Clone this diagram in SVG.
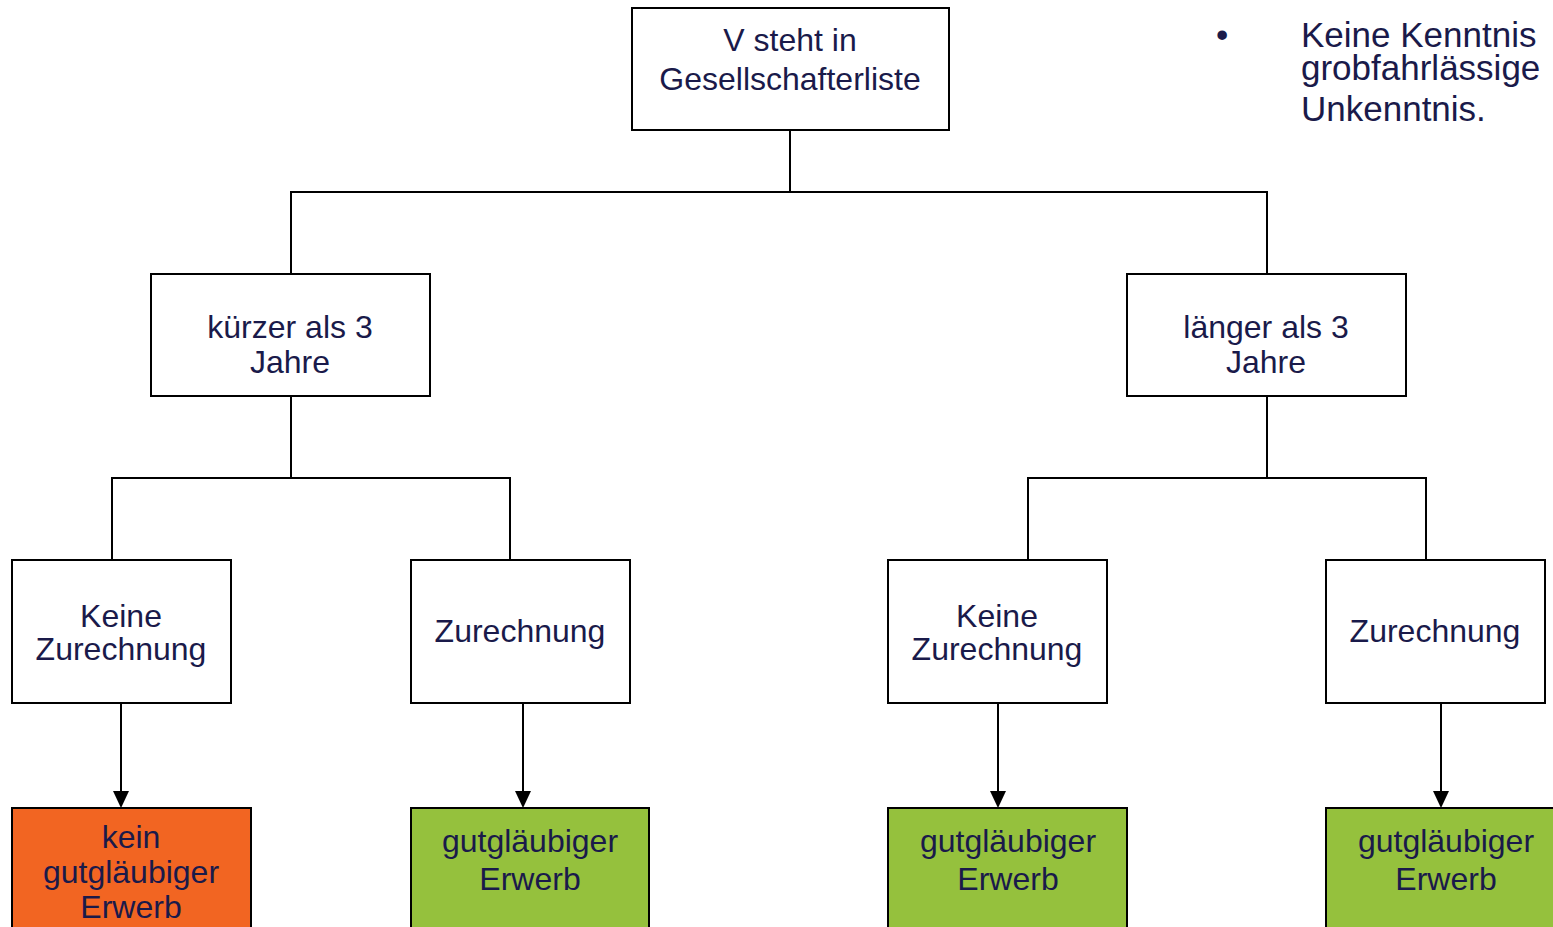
<svg xmlns="http://www.w3.org/2000/svg" width="1553" height="927" viewBox="0 0 1553 927">
<style>
.box{fill:#ffffff;stroke:#000000;stroke-width:2}
.orange{fill:#F26522;stroke:#000000;stroke-width:2}
.green{fill:#95C13D;stroke:#000000;stroke-width:2}
.t{font-family:"Liberation Sans",Arial,sans-serif;font-size:32px;fill:#1a1a4a;text-anchor:middle}
.b{font-family:"Liberation Sans",Arial,sans-serif;font-size:35px;fill:#1a1a4a}
.c{fill:none;stroke:#000000;stroke-width:2}
</style>
<rect width="1553" height="927" fill="#ffffff"/>
<g id="connectors">
<polyline class="c" points="790,130 790,192"/>
<polyline class="c" points="291,274 291,192 1267,192 1267,274"/>
<polyline class="c" points="291,396 291,478"/>
<polyline class="c" points="112,560 112,478 510,478 510,560"/>
<polyline class="c" points="1267,396 1267,478"/>
<polyline class="c" points="1028,560 1028,478 1426,478 1426,560"/>
<line class="c" x1="121" y1="703" x2="121" y2="792"/>
<path d="M113,791 L129,791 L121,808 z" fill="#000"/>
<line class="c" x1="523" y1="703" x2="523" y2="792"/>
<path d="M515,791 L531,791 L523,808 z" fill="#000"/>
<line class="c" x1="998" y1="703" x2="998" y2="792"/>
<path d="M990,791 L1006,791 L998,808 z" fill="#000"/>
<line class="c" x1="1441" y1="703" x2="1441" y2="792"/>
<path d="M1433,791 L1449,791 L1441,808 z" fill="#000"/>
</g>
<g id="n-root">
<rect class="box" x="632" y="8" width="317" height="122"/>
<text class="t" x="790" y="51">V steht in</text>
<text class="t" x="790" y="90">Gesellschafterliste</text>
</g>
<g id="n-kurz">
<rect class="box" x="151" y="274" width="279" height="122"/>
<text class="t" x="290" y="338">kürzer als 3</text>
<text class="t" x="290" y="373">Jahre</text>
</g>
<g id="n-lang">
<rect class="box" x="1127" y="274" width="279" height="122"/>
<text class="t" x="1266" y="338">länger als 3</text>
<text class="t" x="1266" y="373">Jahre</text>
</g>
<g id="n-kz1">
<rect class="box" x="12" y="560" width="219" height="143"/>
<text class="t" x="121" y="627">Keine</text>
<text class="t" x="121" y="660">Zurechnung</text>
</g>
<g id="n-z1">
<rect class="box" x="411" y="560" width="219" height="143"/>
<text class="t" x="520" y="642">Zurechnung</text>
</g>
<g id="n-kz2">
<rect class="box" x="888" y="560" width="219" height="143"/>
<text class="t" x="997" y="627">Keine</text>
<text class="t" x="997" y="660">Zurechnung</text>
</g>
<g id="n-z2">
<rect class="box" x="1326" y="560" width="219" height="143"/>
<text class="t" x="1435" y="642">Zurechnung</text>
</g>
<g id="n-kein">
<rect class="orange" x="12" y="808" width="239" height="130"/>
<text class="t" x="131" y="848">kein</text>
<text class="t" x="131" y="883">gutgläubiger</text>
<text class="t" x="131" y="918">Erwerb</text>
</g>
<g id="n-gut1">
<rect class="green" x="411" y="808" width="238" height="130"/>
<text class="t" x="530" y="852">gutgläubiger</text>
<text class="t" x="530" y="890">Erwerb</text>
</g>
<g id="n-gut2">
<rect class="green" x="888" y="808" width="239" height="130"/>
<text class="t" x="1008" y="852">gutgläubiger</text>
<text class="t" x="1008" y="890">Erwerb</text>
</g>
<g id="n-gut3">
<rect class="green" x="1326" y="808" width="240" height="130"/>
<text class="t" x="1446" y="852">gutgläubiger</text>
<text class="t" x="1446" y="890">Erwerb</text>
</g>
<g id="note">
<text class="b" x="1216" y="47" font-size="26">•</text>
<text class="b" x="1301" y="47">Keine Kenntnis</text>
<text class="b" x="1301" y="80">grobfahrlässige</text>
<text class="b" x="1301" y="121">Unkenntnis.</text>
</g>
</svg>
